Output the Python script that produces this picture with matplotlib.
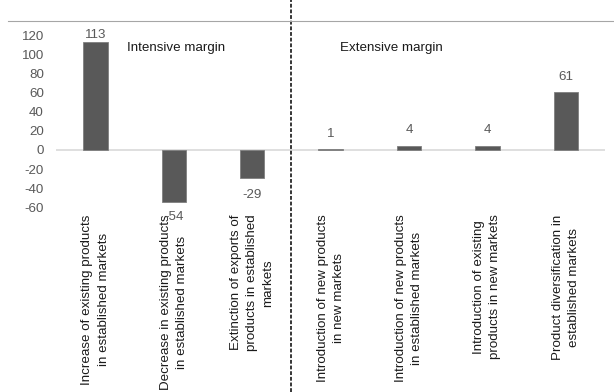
import matplotlib.pyplot as plt
from matplotlib.lines import Line2D
from matplotlib.transforms import blended_transform_factory

categories = [
    "Increase of existing products\nin established markets",
    "Decrease in existing products\nin established markets",
    "Extinction of exports of\nproducts in established\nmarkets",
    "Introduction of new products\nin new markets",
    "Introduction of new products\nin established markets",
    "Introduction of existing\nproducts in new markets",
    "Product diversification in\nestablished markets",
]
values = [113, -54, -29, 1, 4, 4, 61]
yticks = [-60, -40, -20, 0, 20, 40, 60, 80, 100, 120]

FONT = "Liberation Sans"
FS = 9.6
BAR = "#595959"
TXT = "#595959"

fig = plt.figure(figsize=(6.14, 3.92), dpi=100, facecolor="white")
ax = fig.add_axes([0.0917, 0.4707, 0.8936, 0.44])

x = range(len(values))
ax.bar(x, values, width=0.31, color=BAR, edgecolor="#7f7f7f", linewidth=0.6, zorder=3)
ax.axhline(0, color="#d9d9d9", linewidth=1.2, zorder=2)

ax.set_xlim(-0.5, len(values) - 0.5)
ax.set_ylim(-60, 120)
ax.set_yticks(yticks)
ax.set_yticklabels([str(v) for v in yticks], fontsize=FS, color=TXT, family=FONT)
ax.tick_params(axis="y", length=0, pad=9)
ax.set_xticks(list(x))
ax.set_xticklabels(categories, rotation=90, fontsize=FS, color="#1a1a1a",
                   family=FONT, ma="center", va="top", linespacing=1.45)
ax.tick_params(axis="x", length=0, pad=5)
for s in ax.spines.values():
    s.set_visible(False)

# value labels: above positive bars, below negative ones
offsets = [7, 15, 17, 15, 16, 16, 15]
for i, v in enumerate(values):
    off = offsets[i] if v >= 0 else -offsets[i]
    ax.annotate(str(v), (i, v), xytext=(0, off * 0.72), textcoords="offset points",
                ha="center", va="center", fontsize=FS, color=TXT, family=FONT,
                zorder=4)

ax.text(0.2866, 0.8776, "Intensive margin", transform=fig.transFigure,
        ha="center", va="center", fontsize=FS, color="#1a1a1a", family=FONT)
ax.text(0.638, 0.8776, "Extensive margin", transform=fig.transFigure,
        ha="center", va="center", fontsize=FS, color="#1a1a1a", family=FONT)

# separator between the two margins, full figure height
trans = blended_transform_factory(ax.transData, fig.transFigure)
fig.add_artist(Line2D([2.5, 2.5], [0, 1], transform=trans, color="black",
                      linestyle=(0, (2.5, 1.2)), linewidth=1.1))
# thin frame line at the top
fig.add_artist(Line2D([8 / 614, 1], [1 - 21 / 392, 1 - 21 / 392],
                      transform=fig.transFigure, color="#a6a6a6", linewidth=0.8))

fig.savefig("out.png", dpi=100, facecolor="white")
